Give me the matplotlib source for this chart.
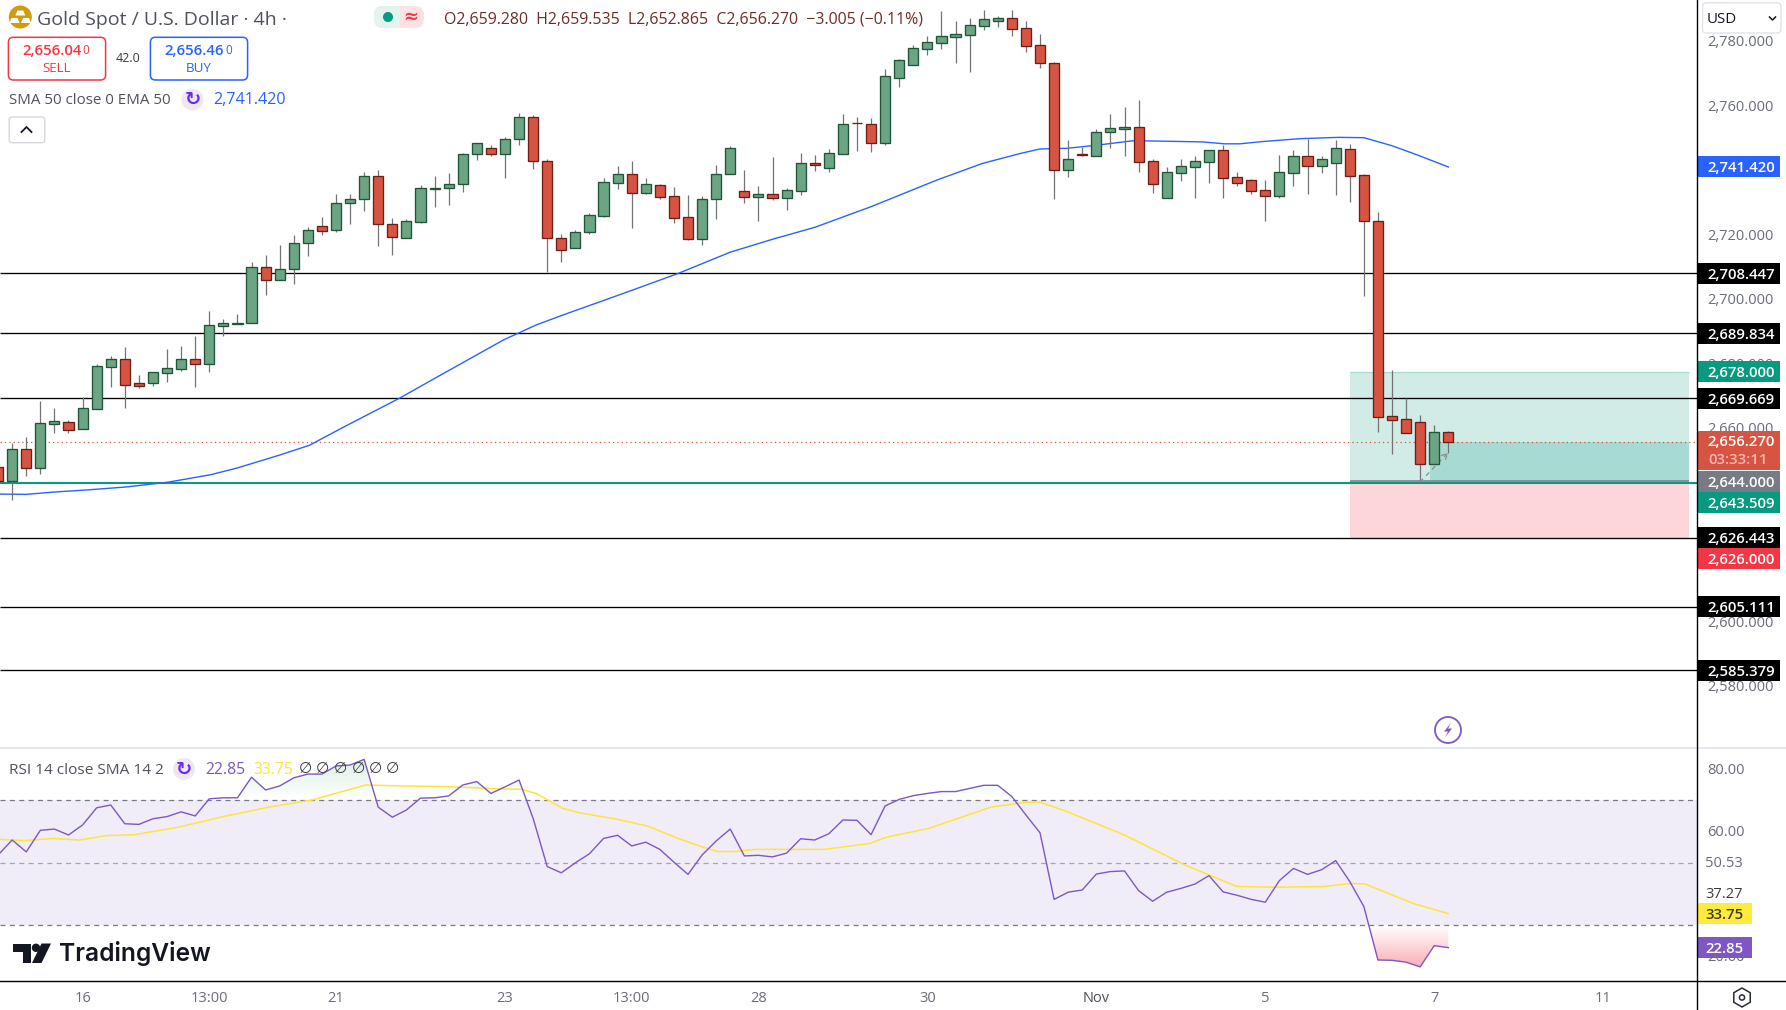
import numpy as np
import matplotlib
matplotlib.use("Agg")
import matplotlib.pyplot as plt
from matplotlib.patches import Rectangle, FancyBboxPatch, Circle, Polygon, RegularPolygon
from matplotlib.path import Path
from matplotlib.transforms import ScaledTranslation

plt.rcParams['font.family'] = ['Open Sans', 'DejaVu Sans']

# candles, 4h bars
opens = [2648.4,2644.2,2653.9,2648.2,2661.8,2662.2,2660.3,2666.5,2679.5,2681.8,
         2674.3,2674.5,2677.6,2678.9,2681.8,2680.4,2692.2,2692.7,2692.9,2710.3,
         2706.3,2709.7,2717.7,2723.0,2721.8,2730.4,2731.4,2738.5,2723.6,2719.3,
         2724.5,2734.6,2734.8,2736.0,2745.3,2747.2,2745.3,2750.0,2756.8,2743.2,
         2719.3,2716.2,2721.2,2726.3,2736.5,2739.1,2733.4,2735.7,2732.3,2725.8,
         2719.2,2731.4,2739.1,2733.9,2732.2,2732.9,2731.9,2734.1,2742.6,2741.2,
         2745.5,2755.0,2754.6,2748.9,2769.1,2773.1,2778.1,2780.0,2781.8,2782.4,
         2785.2,2786.8,2787.5,2784.4,2779.1,2773.6,2740.6,2745.3,2744.9,2752.4,
         2753.3,2753.7,2743.2,2731.9,2739.7,2741.5,2743.1,2746.6,2738.2,2737.3,
         2734.2,2732.5,2739.7,2744.7,2741.8,2742.8,2746.9,2738.8,2724.6,2664.1,
         2663.2,2662.2,2649.4,2659.28]
highs = [2649.0,2655.7,2657.7,2668.9,2666.7,2663.0,2670.1,2680.3,2682.8,2685.5,
         2676.9,2678.0,2685.0,2685.9,2689.0,2696.7,2694.2,2695.8,2711.9,2714.0,
         2717.1,2720.2,2722.7,2725.8,2732.9,2732.9,2739.8,2740.4,2725.5,2725.2,
         2735.7,2738.5,2739.4,2745.6,2748.8,2748.1,2750.7,2758.3,2757.4,2744.0,
         2720.5,2721.9,2727.0,2738.0,2741.7,2743.2,2738.0,2736.0,2735.2,2732.7,
         2732.3,2742.0,2747.9,2740.5,2735.5,2744.5,2734.9,2745.9,2745.1,2747.0,
         2757.8,2756.9,2756.6,2771.8,2774.9,2779.2,2782.0,2789.8,2786.7,2787.5,
         2790.1,2788.2,2790.1,2786.6,2782.6,2773.9,2749.8,2747.7,2753.1,2757.8,
         2760.0,2762.2,2743.8,2741.3,2743.9,2744.8,2746.6,2748.1,2739.8,2737.6,
         2737.3,2745.1,2746.7,2750.1,2744.8,2749.8,2748.5,2739.2,2727.4,2678.5,
         2669.8,2664.5,2661.4,2659.535]
lows = [2643.5,2638.2,2645.6,2646.2,2658.9,2658.9,2660.3,2666.5,2673.3,2666.7,
        2672.9,2673.6,2674.7,2678.2,2673.3,2677.8,2689.1,2692.7,2692.9,2701.7,
        2706.3,2705.2,2713.9,2720.3,2721.4,2723.8,2727.9,2717.0,2714.2,2719.3,
        2724.2,2729.1,2729.7,2733.8,2743.7,2744.9,2738.1,2748.3,2740.9,2708.9,
        2712.1,2716.2,2720.5,2726.0,2734.6,2722.5,2733.1,2731.5,2724.0,2718.9,
        2717.2,2725.3,2739.1,2730.4,2724.8,2731.3,2728.1,2732.7,2740.2,2739.9,
        2745.5,2746.4,2746.1,2748.3,2766.2,2773.1,2776.1,2778.1,2773.7,2770.9,
        2783.9,2784.8,2782.0,2777.2,2772.1,2731.5,2738.4,2744.9,2744.9,2747.4,
        2744.9,2739.9,2733.4,2731.9,2737.1,2731.8,2736.4,2731.8,2735.6,2733.0,
        2724.7,2731.8,2735.5,2733.0,2739.5,2732.7,2730.6,2701.5,2659.2,2652.4,
        2659.0,2643.8,2649.4,2652.865]
closes = [2644.2,2653.9,2648.2,2661.9,2662.5,2660.0,2666.6,2679.6,2681.8,2673.9,
          2673.6,2677.7,2679.0,2681.8,2680.4,2692.3,2692.9,2692.9,2710.3,2706.3,
          2709.7,2717.7,2721.8,2721.7,2730.4,2731.4,2738.5,2723.6,2719.6,2724.6,
          2734.8,2734.8,2736.0,2745.3,2748.8,2745.3,2750.0,2756.8,2743.2,2719.3,
          2715.6,2721.2,2726.4,2736.7,2739.1,2733.4,2736.0,2732.2,2725.7,2719.2,
          2731.4,2739.1,2747.2,2732.2,2732.9,2731.9,2734.2,2742.5,2742.1,2745.6,
          2754.6,2754.9,2748.9,2769.5,2774.5,2778.2,2780.1,2781.9,2782.6,2785.3,
          2787.2,2787.5,2784.3,2779.0,2773.6,2740.6,2743.8,2745.2,2752.2,2753.4,
          2753.7,2743.1,2736.2,2739.8,2741.6,2743.2,2746.6,2738.1,2736.5,2734.1,
          2732.5,2739.8,2744.7,2741.8,2743.8,2747.2,2738.7,2724.6,2664.0,2663.1,
          2659.0,2649.4,2659.1,2656.27]

# 50 period average, read at its visible bends
ma_bars = [0.1,2.0,3.9,6.4,9.1,12.1,15.1,17.0,20.0,22.1,24.6,28.5,30.9,35.9,38.2,40.1,42.8,44.9,48.3,52.0,
           55.0,58.0,62.0,66.7,69.9,72.6,74.0,75.9,78.1,80.5,81.6,85.5,87.1,88.2,89.8,92.5,95.2,97.0,99.0,100.7,103.0]
ma_vals = [2640.0,2639.9,2640.6,2641.3,2642.2,2643.7,2646.0,2648.1,2652.1,2655.1,2660.9,2669.7,2675.6,2687.8,
           2692.4,2695.5,2699.7,2703.0,2708.4,2715.0,2719.0,2722.7,2729.1,2737.4,2742.5,2745.6,2747.0,2747.2,
           2748.2,2749.5,2749.5,2749.2,2748.6,2748.6,2749.3,2750.2,2750.6,2750.5,2748.0,2745.3,2741.42]

levels = [2708.447, 2689.834, 2669.669, 2626.443, 2605.111, 2585.379]
last_price = 2656.27
support = 2643.509
target = 2678.0
entry = 2644.0
stop = 2626.0
price_ticks = [2580, 2600, 2660, 2680, 2700, 2720, 2760, 2780]

rsi = [52.5,57.3,53.5,60.4,60.8,58.9,62.1,67.6,68.5,62.5,
       62.3,64.1,64.8,66.3,65.0,70.5,70.8,70.8,77.4,73.3,
       74.6,77.2,78.4,78.4,81.0,81.3,83.1,67.8,64.6,66.9,
       70.7,70.8,71.4,74.9,76.0,72.2,74.3,76.5,64.2,48.8,
       46.8,50.0,52.9,57.8,58.8,55.4,56.6,54.3,50.2,46.3,
       52.5,57.0,60.8,52.2,52.4,51.9,53.1,57.7,57.3,59.3,
       63.7,63.6,59.0,68.2,70.3,71.5,72.2,72.8,72.8,73.8,
       74.8,74.8,71.2,65.3,59.6,38.3,40.6,41.3,46.4,47.2,
       47.4,41.1,37.7,40.6,41.8,43.2,45.9,40.7,39.6,38.3,
       37.4,44.3,48.2,46.3,47.8,50.7,44.0,36.0,18.9,18.8,
       18.2,16.7,23.5,22.85]
rsi_ma_bars = [0.1,1.9,3.9,5.8,7.7,9.7,12.8,16.0,19.2,22.3,26.1,28.7,31.8,35.0,37.2,38.2,40.1,41.3,43.9,46.1,48.3,49.8,
               51.1,52.3,53.8,58.7,61.9,63.1,66.1,70.5,73.0,74.0,75.9,79.9,84.3,88.0,90.7,94.1,96.1,97.1,100.5,103.0]
rsi_ma_vals = [57.5,57.1,57.8,57.3,58.7,59.0,61.4,64.8,67.8,70.1,74.9,74.6,74.4,73.8,73.5,72.2,67.4,66.0,64.0,61.8,57.8,55.4,
               53.6,53.6,54.3,54.3,56.2,58.2,61.0,67.8,69.4,69.4,66.4,59.1,49.3,42.4,42.2,42.4,43.4,43.2,37.0,33.75]
rsi_ticks = [20, 60, 80]

date_bars = [6, 15, 24, 36, 45, 54, 66, 78, 90, 102, 114]
date_labels = ['16', '13:00', '21', '23', '13:00', '28', '30', 'Nov', '5', '7', '11']

W, H = 1786, 1010
AXIS_X = 1697
fig = plt.figure(figsize=(W / 100, H / 100), dpi=100, facecolor='white')
ax = fig.add_axes([0, (H - 747) / H, AXIS_X / W, 747 / H])
rax = fig.add_axes([0, (H - 980) / H, AXIS_X / W, (980 - 748) / H])
hud = fig.add_axes([0, 0, 1, 1], zorder=10)
hud.set_xlim(0, W)
hud.set_ylim(H, 0)
hud.axis('off')
hud.patch.set_alpha(0)

GREEN, GREEN_EDGE = '#6BA583', '#225437'
RED, RED_EDGE = '#D75442', '#6D1E17'
WICK = '#737375'
AXIS_TEXT = '#6A6D78'
XLIM = (0.135, 120.66)

# main price pane
bars = np.arange(len(opens))
o, h, l, c = map(np.array, (opens, highs, lows, closes))
up = c >= o
ax.vlines(bars, l, h, color=WICK, lw=0.9, zorder=3)
ax.bar(bars[up], (c - o)[up], bottom=o[up], width=0.72, color=GREEN, edgecolor=GREEN_EDGE, lw=0.95, zorder=4)
ax.bar(bars[~up], (o - c)[~up], bottom=c[~up], width=0.72, color=RED, edgecolor=RED_EDGE, lw=0.95, zorder=4)

ax.plot(ma_bars, ma_vals, color='#2962FF', lw=1.0, zorder=2.5)
ax.hlines(levels, *XLIM, color='black', lw=0.95, zorder=2)
ax.axhline(support, color='#089981', lw=1.5, zorder=2)
ax.axhline(last_price, color='#D75442', lw=0.9, ls=(0, (1, 2.5)), zorder=2.2)

# long position tool
box_left, box_right = 96.0, 120.07
ax.add_patch(Rectangle((box_left, entry), box_right - box_left, target - entry, fc='#D1EBE6', ec='none', zorder=1))
ax.hlines(target, box_left, box_right, color='#A9DAD2', lw=0.9, zorder=1.1)
ax.add_patch(Rectangle((box_left, stop), box_right - box_left, entry - stop, fc='#FDD6DA', ec='none', zorder=1))
ax.add_patch(Rectangle((101.7, entry), box_right - 101.7, last_price - entry, fc='#A7DAD2', ec='none', zorder=1.1))
ax.hlines(entry, box_left, box_right, color='#787B86', lw=1.1, zorder=2.1)
ax.annotate('', xy=(103.0, 2652.9), xytext=(101.0, 2643.8),
            arrowprops=dict(arrowstyle='->', color='#8A8C94', lw=0.9, ls=(0, (3, 4)), shrinkA=0, shrinkB=0), zorder=3.5)

ax.set_xlim(*XLIM)
ax.set_ylim(2561.57, 2793.19)
ax.set_xticks([])
ax.yaxis.tick_right()
ax.set_yticks(price_ticks)
ax.set_yticklabels([f'{t:,.3f}' for t in price_ticks])
ax.tick_params(axis='y', length=0, pad=7.5, labelsize=10.5, labelcolor=AXIS_TEXT)
for lab in ax.get_yticklabels():
    lab.set_verticalalignment('center_baseline')
    lab.set_transform(lab.get_transform() + ScaledTranslation(0, 0.02, fig.dpi_scale_trans))
for s in ax.spines.values():
    s.set_visible(False)


def side_label(axes, y, text, fc, tc='white', w=83, hpx=21, scale=3.225, size=10.7, weight='semibold', shift=2.5):
    # coloured tag on the right axis, y in data units of that pane
    tr = axes.get_yaxis_transform()
    axes.add_patch(Rectangle((1, y - hpx / 2 / scale), w / AXIS_X, hpx / scale, transform=tr, fc=fc, ec='none',
                             clip_on=False, zorder=8))
    axes.text(1 + (w / 2 + shift) / AXIS_X, y, text, transform=tr, color=tc, fontsize=size, weight=weight, ha='center',
              va='center_baseline', clip_on=False, zorder=9)


side_label(ax, 2741.42, f'{ma_vals[-1]:,.3f}', '#2962FF')
for lv in levels:
    side_label(ax, lv, f'{lv:,.3f}', '#000000')
side_label(ax, target, f'{target:,.3f}', '#089981')
# last price tag is two rows tall
ptr = ax.get_yaxis_transform()
ax.add_patch(Rectangle((1, 2647.45), 83 / AXIS_X, 39.3 / 3.225, transform=ptr, fc='#D75442', ec='none',
                       clip_on=False, zorder=8))
ax.text(1 + 44 / AXIS_X, last_price + 0.3, f'{last_price:,.3f}', transform=ptr, color='white', fontsize=10.7,
        weight='semibold', ha='center', va='center_baseline', clip_on=False, zorder=9)
ax.text(1 + 11 / AXIS_X, 2650.87, '03:33:11', transform=ptr, color='#F6B7AF', fontsize=10.7, weight='semibold',
        ha='left', va='center_baseline', clip_on=False, zorder=9)
side_label(ax, entry, f'{entry:,.3f}', '#787B86')
# tags pushed down so they do not sit on each other
side_label(ax, support - 6.1, f'{support:,.3f}', '#089981')
side_label(ax, stop - 6.0, f'{stop:,.3f}', '#F23645')

# rsi pane
rsi_arr = np.array(rsi)
rax.add_patch(Rectangle((XLIM[0], 30), XLIM[1] - XLIM[0], 40, fc='#F0ECF8', ec='none', zorder=0.5))
for lvl, col in ((70, '#787B86'), (50, '#A8A4B4'), (30, '#787B86')):
    rax.axhline(lvl, color=col, lw=0.9, ls=(0, (4, 3.5)), zorder=1)


def gradient_fill(where, base, far, rgb, alpha):
    # fill between line and band, fading out towards the band
    poly = rax.fill_between(bars, rsi_arr, base, where=where, interpolate=True, color='none')
    path = Path.make_compound_path(*poly.get_paths())
    ramp = np.linspace(alpha, 0, 64) if far > base else np.linspace(0, alpha, 64)
    img = np.zeros((64, 1, 4))
    img[..., :3] = rgb
    img[:, 0, 3] = ramp
    im = rax.imshow(img, extent=(XLIM[0], XLIM[1], min(base, far), max(base, far)), aspect='auto', origin='upper',
                    zorder=1.2)
    im.set_clip_path(path, transform=rax.transData)


gradient_fill(rsi_arr > 70, 70, 84, (0.03, 0.60, 0.30), 0.16)
gradient_fill(rsi_arr < 30, 30, 16, (0.95, 0.21, 0.27), 0.42)

rax.plot(rsi_ma_bars, rsi_ma_vals, color='#FDE53B', lw=1.1, zorder=2)
rax.plot(bars, rsi, color='#7E57C2', lw=1.0, zorder=3)
rax.set_xlim(*XLIM)
rax.set_ylim(12.5, 86.74)
rax.yaxis.tick_right()
rax.set_yticks(rsi_ticks)
rax.set_yticklabels([f'{t:.2f}' for t in rsi_ticks])
rax.tick_params(axis='y', length=0, pad=7.5, labelsize=10.5, labelcolor=AXIS_TEXT)
for lab in rax.get_yticklabels():
    lab.set_verticalalignment('center_baseline')
    lab.set_transform(lab.get_transform() + ScaledTranslation(0, 0.01, fig.dpi_scale_trans))
rax.set_xticks(date_bars)
rax.set_xticklabels(date_labels)
rax.tick_params(axis='x', length=0, pad=8, labelsize=10.5, labelcolor=AXIS_TEXT)
for lab in rax.get_xticklabels():
    if lab.get_text() == 'Nov':
        lab.set_color('#4A4D57')
for s in rax.spines.values():
    s.set_visible(False)
rax.text(1 + 8 / AXIS_X, 49.7, '50.53', transform=rax.get_yaxis_transform(), color=AXIS_TEXT, fontsize=10.5,
         va='center', clip_on=False)
rax.text(1 + 8 / AXIS_X, 39.9, '37.27', transform=rax.get_yaxis_transform(), color='#3A3A40', fontsize=10.5,
         va='center', clip_on=False)
side_label(rax, rsi_ma_vals[-1], f'{rsi_ma_vals[-1]:.2f}', '#FFEB3B', tc='#3A3A20', w=55, scale=3.125, shift=0)
side_label(rax, rsi[-1], f'{rsi[-1]:.2f}', '#7E57C2', w=55, scale=3.125, shift=0)

# frame lines
hud.plot([0, W], [747.5, 747.5], color='#E0E3EB', lw=1.2)
hud.plot([0, W], [980.5, 980.5], color='black', lw=1.0)
hud.plot([AXIS_X, AXIS_X], [0, H], color='black', lw=1.0)


def rbox(x0, y0, x1, y1, fc='white', ec='none', lw=1.0, r=4):
    hud.add_patch(FancyBboxPatch((x0 + r, y0 + r), x1 - x0 - 2 * r, y1 - y0 - 2 * r, boxstyle=f'round,pad={r},rounding_size={r}',
                                 fc=fc, ec=ec, lw=lw))


def refresh_icon(x, y, r):
    hud.add_patch(Circle((x, y), r, fc='#EDE7F6', ec='none'))
    hud.text(x, y, '\u21BB', color='#6A2DF0', fontsize=14, ha='center', va='center', family='DejaVu Sans', weight='bold')


DARK = '#4F525C'
# gold logo and title
hud.add_patch(Circle((20.3, 17), 11.5, fc='#D19B0C', ec='none'))
for px, py in ((20.3, 11.5), (14.5, 19), (26, 19)):
    hud.add_patch(Polygon([(px - 5, py + 4), (px - 3, py - 1), (px + 3, py - 1), (px + 5, py + 4)], fc='white', ec='none'))
hud.text(37, 20, 'Gold Spot / U.S. Dollar \u00b7 4h \u00b7', color=DARK, fontsize=14, va='center')

# market status pill
rbox(374, 6, 424, 28, fc='#FDE2E4', r=9)
rbox(374, 6, 399, 28, fc='#E3F3EE', r=9)
hud.add_patch(Rectangle((392, 6), 8, 22, fc='#E3F3EE', ec='none'))
hud.add_patch(Circle((388, 17), 5, fc='#089981', ec='none'))
hud.text(411, 17, '\u2248', color='#F23645', fontsize=13, ha='center', va='center', family='DejaVu Sans', weight='bold')

hud.text(444.5, 19, 'O2,659.280  H2,659.535  L2,652.865  C2,656.270  \u22123.005 (\u22120.11%)', color='#6F2C25', fontsize=11.4,
         va='center')

# sell / buy
rbox(8.4, 37.3, 105.6, 80, ec='#F23645', lw=1.1, r=5)
rbox(150.4, 37.3, 247.6, 80, ec='#2962FF', lw=1.1, r=5)
hud.text(22, 51, '2,656.04', color='#F23645', fontsize=10.8, weight='semibold', va='center')
hud.text(82.5, 50, '0', color='#F23645', fontsize=8.5, va='center')
hud.text(57, 68, 'SELL', color='#F23645', fontsize=9.6, ha='center', va='center')
hud.text(164, 51, '2,656.46', color='#2962FF', fontsize=10.8, weight='semibold', va='center')
hud.text(225.5, 50, '0', color='#2962FF', fontsize=8.5, va='center')
hud.text(199, 68, 'BUY', color='#2962FF', fontsize=9.6, ha='center', va='center')
hud.text(128, 58, '42.0', color='#3A3A40', fontsize=9, ha='center', va='center')

# indicator legends
hud.text(9, 100.5, 'SMA 50 close 0 EMA 50', color=DARK, fontsize=10.9, va='center')
refresh_icon(192.5, 99.5, 11)
hud.text(213, 100.5, '2,741.420', color='#2962FF', fontsize=11.6, va='center')
rbox(9.2, 117, 44.8, 142.7, ec='#D6D8DE', lw=1.0, r=3)
hud.plot([21.5, 26.5, 31.5], [132, 127, 132], color='#131722', lw=1.3)

hud.text(9, 770, 'RSI 14 close SMA 14 2', color=DARK, fontsize=11.05, va='center')
refresh_icon(184, 769, 11)
hud.text(205, 769.5, '22.85', color='#7E57C2', fontsize=11.3, va='center')
hud.text(253, 769.5, '33.75', color='#FDE53B', fontsize=11.3, va='center')
for px in (305.8, 322.8, 340.6, 358, 375.9, 392.9):
    hud.text(px, 768.5, '\u2205', color='#3A3A40', fontsize=11, ha='center', va='center', family='DejaVu Sans')

# TradingView logo
LOGO = '#131722'
hud.add_patch(Polygon([(13, 943.5), (31, 943.5), (31, 963), (22.5, 963), (22.5, 952), (13, 952)], fc=LOGO, ec='none'))
hud.add_patch(Circle((36, 947.8), 4.2, fc=LOGO, ec='none'))
hud.add_patch(Polygon([(41.5, 943.5), (51, 943.5), (41.5, 963), (32, 963)], fc=LOGO, ec='none'))
hud.text(59, 954, 'TradingView', color=LOGO, fontsize=17.7, family=['Inter', 'DejaVu Sans'], weight='semibold', va='center')

# flash icon on the chart
hud.add_patch(Circle((1448, 730), 13, fc='white', ec='#7E57C2', lw=1.3))
hud.add_patch(Polygon([(1451, 723), (1444, 731.5), (1448, 731.5), (1445, 737.5), (1452, 728.5), (1448, 728.5)], fc='#7E57C2', ec='none'))

# currency box and settings icon
rbox(1702.6, 2.7, 1781, 33, fc='white', ec='#E0E3EB', lw=1.0, r=4)
hud.text(1707, 19.5, 'USD', color='#131722', fontsize=10.8, va='center')
hud.plot([1769.5, 1772.5, 1775.5], [17, 20, 17], color='#131722', lw=1.1)
hud.add_patch(RegularPolygon((1742, 997.5), 6, radius=9.5, fc='white', ec='#2A2E39', lw=1.1))
hud.add_patch(Circle((1742, 997.5), 2.6, fc='white', ec='#2A2E39', lw=1.1))

fig.savefig('out.png', dpi=100, facecolor='white')
